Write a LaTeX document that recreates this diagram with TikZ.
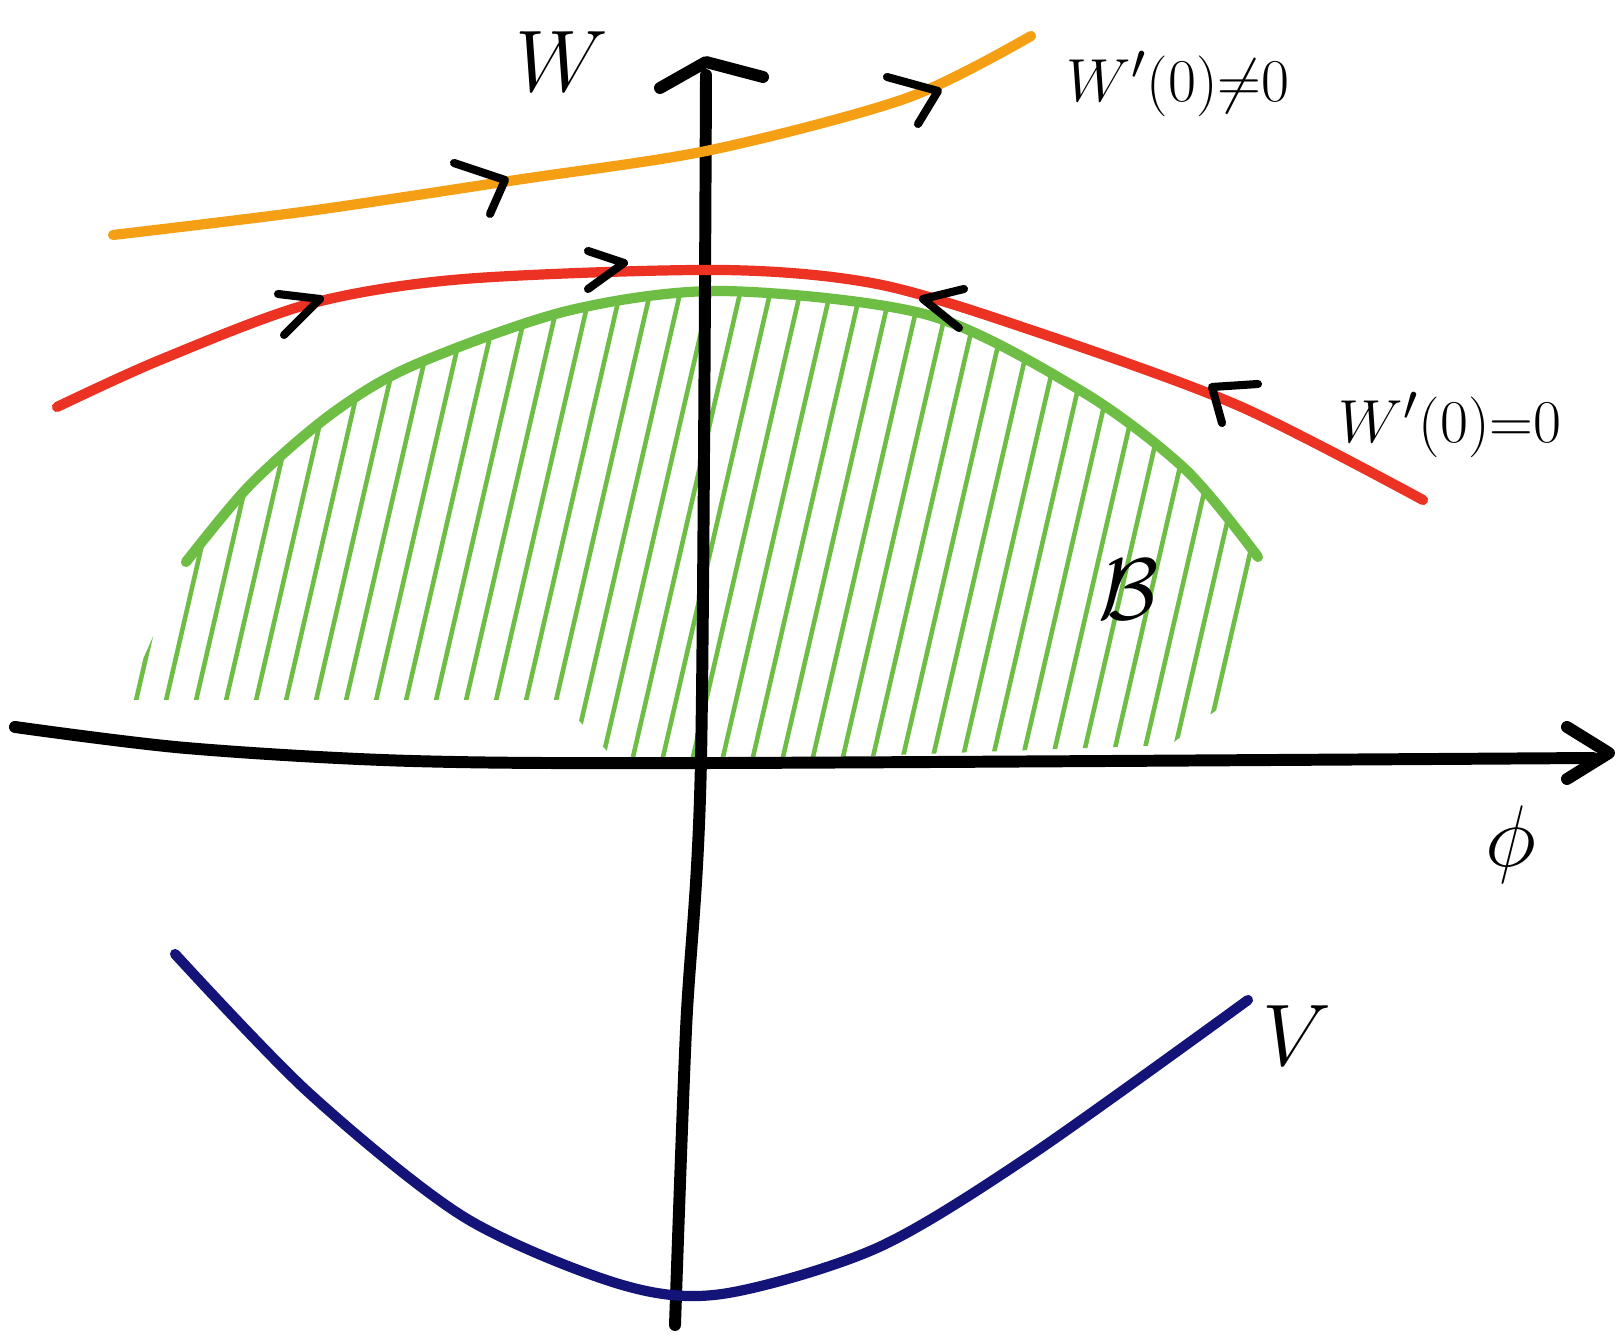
\documentclass[tikz,border=0pt]{standalone}
\usepackage{fontspec}
\setmainfont{Liberation Sans}
\definecolor{orng}{RGB}{245,160,20}
\definecolor{rd}{RGB}{235,50,35}
\definecolor{grn}{RGB}{110,190,70}
\definecolor{navy}{RGB}{20,20,120}
\begin{document}
\begin{tikzpicture}[x=0.01cm,y=-0.01cm,
  axis/.style={line width=3.4pt,line cap=round,line join=round,black},
  crv/.style={line width=2.9pt,line cap=round},
  chev/.style={line width=2.3pt,line cap=round,line join=round,black},
  hatch/.style={line width=1.3pt,grn,line cap=round},
  lbl/.style={font=\fontsize{19}{22}\selectfont,inner sep=0pt},
  big/.style={font=\fontsize{26}{30}\selectfont,inner sep=0pt}]
\fill[white] (0,0) rectangle (1617,1340);
\useasboundingbox (0,0) rectangle (1617,1340);
% hatching
\begin{scope}
\clip plot[smooth] coordinates {(186,562) (250,485) (330,415) (412,366) (567,311) (722,291) (928,315) (1083,392) (1186,470) (1258,557)} -- (1230,700) -- (1170,745) -- (620,765) -- (560,700) -- (125,700) -- cycle;
\foreach \x in {60,90,...,1300} {
  \draw[hatch] (\x,770) -- (\x+120,250);
}
\end{scope}
% green curve
\draw[crv,grn] plot[smooth] coordinates {(186,562) (250,485) (330,415) (412,366) (567,311) (722,291) (928,315) (1083,392) (1186,470) (1258,557)};
% axes
\draw[axis] plot[smooth] coordinates {(15,727) (186,748) (412,761) (722,763) (1593,758)};
\draw[axis] (1567,727) -- (1609,753) -- (1567,779);
\draw[axis] plot[smooth] coordinates {(675,1325) (686,1030) (701,760) (706,75)};
\draw[axis] (660,88) -- (706,62) -- (763,77);
% orange
\draw[crv,orng] plot[smooth] coordinates {(113,235) (309,211) (516,180) (711,150) (907,98) (1031,36)};
% red
\draw[crv,rd] plot[smooth] coordinates {(57,407) (160,360) (309,304) (464,279) (722,270) (877,284) (1031,330) (1237,405) (1423,500)};
% navy
\draw[crv,navy] plot[smooth] coordinates {(175,954) (309,1093) (464,1217) (619,1284) (722,1294) (877,1248) (1031,1155) (1248,1000)};
% chevrons
\draw[chev] (454,163) -- (505,180) -- (490,214);
\draw[chev] (887,77) -- (938,91) -- (918,124);
\draw[chev] (278,294) -- (320,299) -- (284,335);
\draw[chev] (588,251) -- (624,263) -- (588,289);
\draw[chev] (964,289) -- (923,299) -- (959,328);
\draw[chev] (1258,384) -- (1212,387) -- (1222,423);
% labels
\node[big] (w) at (562,62) {$W$};
\node[lbl] (wne) at (1178,84) {$W'(0){\neq}0$};
\node[lbl] (weq) at (1450,425) {$W'(0){=}0$};
\node[big] (phi) at (1511,845) {$\phi$};
\node[big] (b) at (1129,590) {$\mathcal{B}$};
\node[big] (v) at (1297,1036) {$V$};
\end{tikzpicture}
\end{document}
